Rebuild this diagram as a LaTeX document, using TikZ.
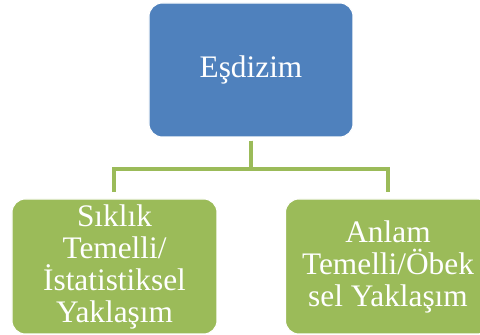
\documentclass[tikz,border=0pt]{standalone}
\usepackage{fontspec}
\setmainfont{Liberation Serif}
\definecolor{boxblue}{HTML}{4F81BD}
\definecolor{boxgreen}{HTML}{9BBB59}
\begin{document}
\begin{tikzpicture}[x=0.75pt,y=-0.75pt,
  box/.style={rounded corners=10pt, draw=white, line width=0.8pt, text=white,
    align=center, font=\fontsize{23.5}{24}\selectfont, inner sep=0pt},
  root/.style={box, fill=boxblue, minimum width=153pt, minimum height=100.5pt},
  leaf/.style={box, fill=boxgreen, minimum width=153.75pt, minimum height=101.25pt},
  link/.style={draw=boxgreen, line width=3pt, line join=miter}]
\useasboundingbox (0,0) rectangle (480,335);
\clip (0,0) rectangle (480,335);

% boxes
\node[root] (top) at (251,70) {Eşdizim};
\node[leaf] (left) at (114.5,266.5) {Sıklık\\Temelli/\\İstatistiksel\\Yaklaşım};
\node[leaf] (right) at (388,266.5) {Anlam\\Temelli/Öbek\\sel Yaklaşım};

% tree connectors
\draw[link] ([yshift=-2.25pt]top.south) -- ++(0,28) -| ([yshift=4.5pt]left.north);
\draw[link] ([yshift=-2.25pt]top.south) -- ++(0,28) -| ([yshift=4.5pt]right.north);
\end{tikzpicture}
\end{document}
